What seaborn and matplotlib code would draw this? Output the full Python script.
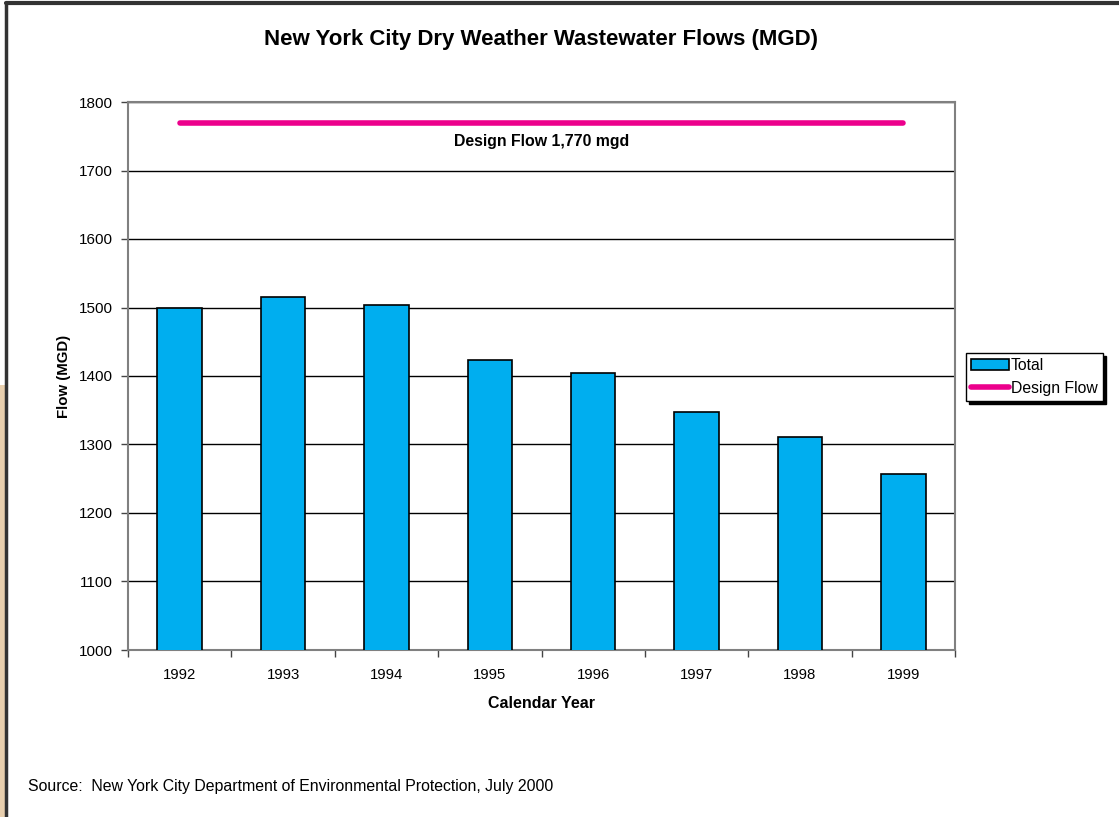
import matplotlib
matplotlib.use("Agg")
import matplotlib.pyplot as plt
import seaborn as sns
import pandas as pd
from matplotlib.patches import Rectangle
from matplotlib.lines import Line2D

years = ["1992", "1993", "1994", "1995", "1996", "1997", "1998", "1999"]
total_flow = [1500, 1516, 1504, 1423, 1404, 1348, 1311, 1257]
design_flow = 1770
y_ticks = [1000, 1100, 1200, 1300, 1400, 1500, 1600, 1700, 1800]

sns.set_theme(style="white")
plt.rcParams['font.family'] = ['Liberation Sans', 'DejaVu Sans']
plt.rcParams['text.color'] = 'black'
plt.rcParams['axes.labelcolor'] = 'black'
plt.rcParams['xtick.color'] = 'black'
plt.rcParams['ytick.color'] = 'black'

fig = plt.figure(figsize=(11.19, 8.17), dpi=100)
ax = fig.add_axes([128/1119, 1 - 650/817, (955-128)/1119, (650-102)/817])

df = pd.DataFrame({"Year": years, "Flow": total_flow})
sns.barplot(data=df, x="Year", y="Flow", ax=ax, color="#00AEEF", saturation=1,
            width=0.43, edgecolor="black", linewidth=1.2, zorder=3)

ax.plot([0, len(years) - 1], [design_flow, design_flow], color="#EC008C",
        linewidth=4, solid_capstyle="round", zorder=4)
ax.text((len(years) - 1) / 2, design_flow - 17, "Design Flow 1,770 mgd",
        ha="center", va="top", fontsize=11.4, fontweight="bold", color="black")

ax.set_ylim(1000, 1800)
ax.set_xlim(-0.5, len(years) - 0.5)
ax.set_yticks(y_ticks)
ax.set_yticklabels([str(v) for v in y_ticks], fontsize=11)
ax.yaxis.grid(True, color="black", linewidth=1)
ax.set_axisbelow(True)
ax.set_xticks(range(len(years)))
ax.set_xticklabels(years, fontsize=10.7)
ax.tick_params(axis="x", length=0, pad=13)
ax.tick_params(axis="y", left=True, length=5, width=1, color="#444444", direction="out", pad=6)
ax.set_xticks([i + 0.5 for i in range(-1, len(years))], minor=True)
ax.tick_params(axis="x", which="minor", bottom=True, length=5, width=1, color="#444444", direction="out")
for s in ax.spines.values():
    s.set_color("#808080")
    s.set_linewidth(1.5)

ax.set_xlabel("Calendar Year", fontsize=11.5, fontweight="bold", labelpad=10)
ax.set_ylabel("Flow (MGD)", fontsize=10.8, fontweight="bold")
ax.yaxis.set_label_coords(-(128 - 71) / 827, 0.5)

fig.text(541/1119, 1 - 39/817, "New York City Dry Weather Wastewater Flows (MGD)",
         ha="center", va="center", fontsize=16, fontweight="bold")
fig.text(28/1119, 1 - 787/817, "Source:  New York City Department of Environmental Protection, July 2000",
         ha="left", va="center", fontsize=11.4)

handles = [Rectangle((0, 0), 1, 1, facecolor="#00AEEF", edgecolor="black", linewidth=1.2),
           Line2D([0], [0], color="#EC008C", linewidth=4)]
leg = fig.legend(handles, ["Total", "Design Flow"], loc="center left",
                 bbox_to_anchor=(966/1119, 1 - 377/817), fontsize=11.3,
                 frameon=True, fancybox=False, shadow={"color": "black", "alpha": 1},
                 edgecolor="black", borderpad=0.35, handlelength=2.4, handletextpad=0.1,
                 labelspacing=0.45, borderaxespad=0)
leg.get_frame().set_linewidth(1)

# screenshot frame decorations
fig.patches.append(Rectangle((0, 0), 5/1119, 1 - 385/817, transform=fig.transFigure,
                             facecolor="#E8CFAE", edgecolor="none", zorder=0))
fig.add_artist(Line2D([6/1119, 6/1119], [0, 1 - 3/817], transform=fig.transFigure, color="#333333", linewidth=2.5))
fig.add_artist(Line2D([6/1119, 1], [1 - 3/817, 1 - 3/817], transform=fig.transFigure, color="#333333", linewidth=3))

fig.savefig("out.png", dpi=100)
